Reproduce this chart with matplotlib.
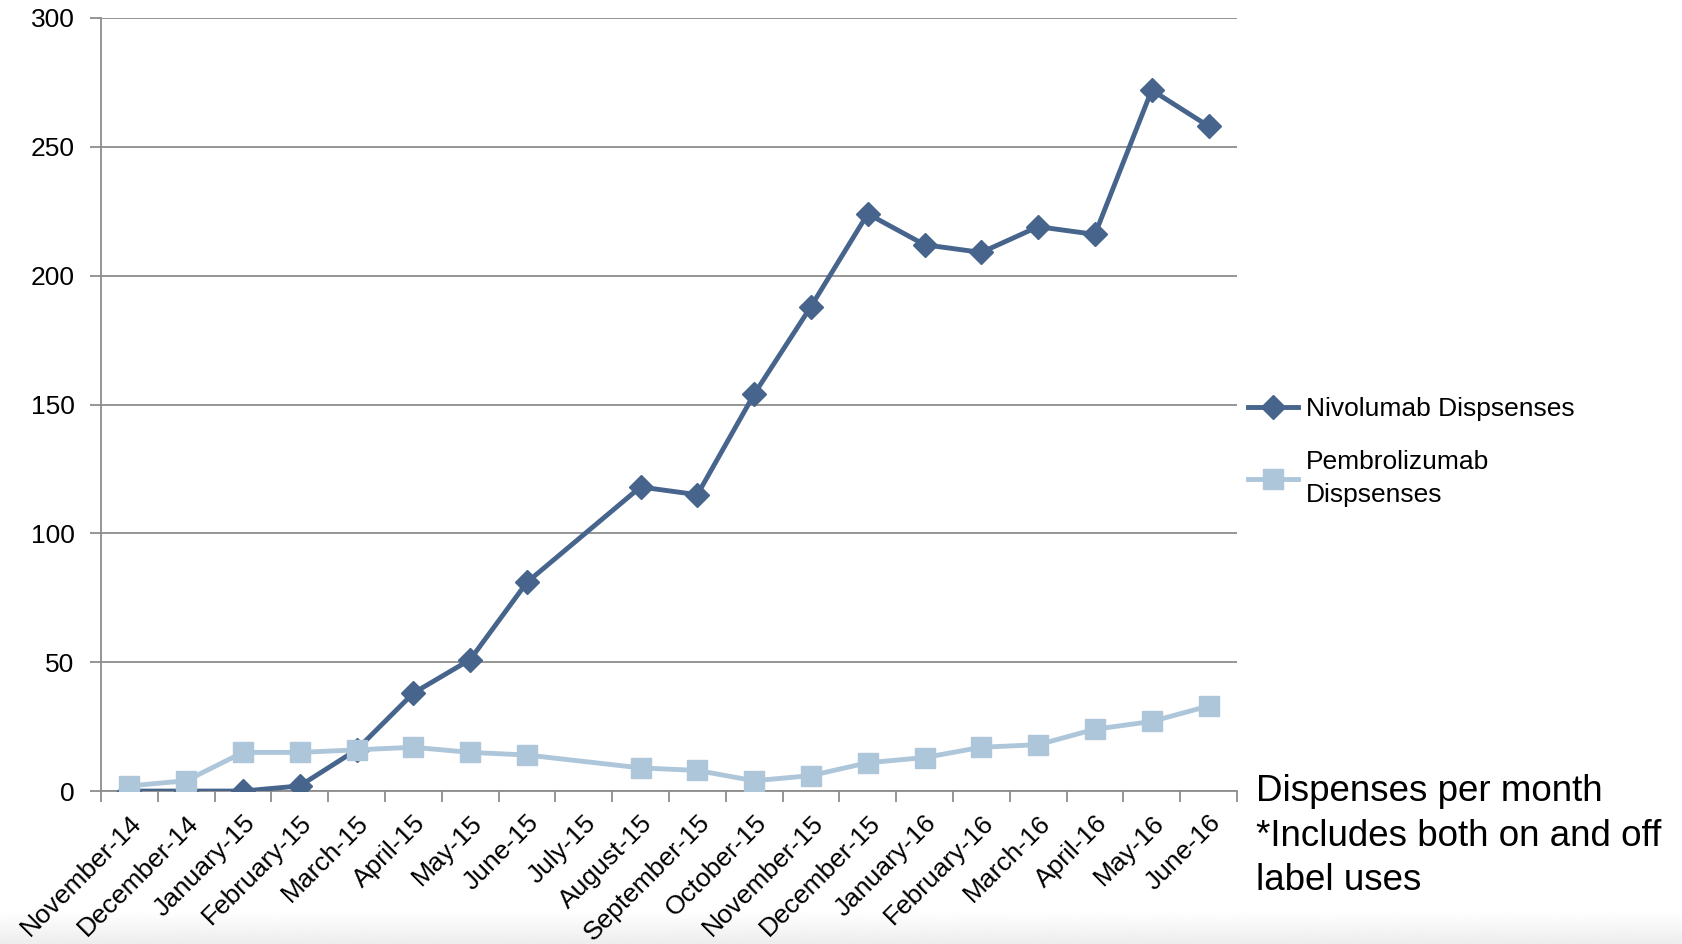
import numpy as np
import matplotlib
matplotlib.use("Agg")
from matplotlib import pyplot as plt

plt.rcParams['font.family'] = ['Liberation Sans', 'DejaVu Sans']

# monthly dispenses, July-15 has no data
months = ['November-14', 'December-14', 'January-15', 'February-15', 'March-15',
          'April-15', 'May-15', 'June-15', 'July-15', 'August-15', 'September-15',
          'October-15', 'November-15', 'December-15', 'January-16', 'February-16',
          'March-16', 'April-16', 'May-16', 'June-16']
nivolumab = [0, 0, 0, 2, 16, 38, 51, 81, None, 118, 115, 154, 188, 224,
             212, 209, 219, 216, 272, 258]
pembrolizumab = [2, 4, 15, 15, 16, 17, 15, 14, None, 9, 8, 4, 6, 11,
                 13, 17, 18, 24, 27, 33]
y_ticks = [0, 50, 100, 150, 200, 250, 300]

dark = '#46648c'
light = '#aec6da'
grid_c = '#8c8c8c'

def valid(vals):
    xs = [i for i, v in enumerate(vals) if v is not None]
    ys = [v for v in vals if v is not None]
    return xs, ys

fig = plt.figure(figsize=(16.82, 9.44), dpi=100)

# faint grey fade along the bottom edge
bg = fig.add_axes([0, 0, 1, 0.034], zorder=-5)
bg.imshow(np.linspace(1.0, 0.93, 50).reshape(-1, 1), cmap='gray', vmin=0, vmax=1,
          aspect='auto', extent=[0, 1, 0, 1])
bg.axis('off')

ax = fig.add_axes([0.060, 0.162, 0.6754, 0.819])

x1, y1 = valid(nivolumab)
x2, y2 = valid(pembrolizumab)
ax.plot(x1, y1, color=dark, lw=3.5, marker='D', markersize=12, zorder=3,
        label='Nivolumab Dispsenses')
ax.plot(x2, y2, color=light, lw=3.5, marker='s', markersize=14, zorder=4,
        label='Pembrolizumab\nDispsenses')

ax.set_xlim(-0.5, len(months) - 0.5)
ax.set_ylim(0, 300)
ax.set_yticks(y_ticks)
ax.yaxis.grid(True, color=grid_c, lw=1.3)
ax.set_axisbelow(True)

# category boundaries get tick marks, labels sit under each point
ax.set_xticks(np.arange(-0.5, len(months), 1.0))
ax.set_xticklabels([])
ax.tick_params(axis='x', which='major', direction='out', length=8,
               color=grid_c, width=1.3)
ax.set_xticks(np.arange(len(months)), minor=True)
ax.set_xticklabels(months, minor=True, rotation=45, ha='right',
                   rotation_mode='anchor', fontsize=19)
ax.tick_params(axis='x', which='minor', length=0, pad=14)
ax.tick_params(axis='y', direction='out', length=8, color=grid_c, width=1.3,
               labelsize=19, pad=11)

for s in ['top', 'right']:
    ax.spines[s].set_visible(False)
for s in ['left', 'bottom']:
    ax.spines[s].set_color(grid_c)
    ax.spines[s].set_linewidth(1.3)

leg = ax.legend(loc='upper left', bbox_to_anchor=(0.991, 0.537), frameon=False,
                fontsize=19, handlelength=1.9, handletextpad=0.3, labelspacing=1.1,
                borderaxespad=0.4)
for t in leg.get_texts():
    t.set_linespacing(1.45)

fig.text(0.747, 0.1144, 'Dispenses per month\n*Includes both on and off\nlabel uses',
         fontsize=26.5, va='center', ha='left', linespacing=1.35)

plt.savefig('out.png', dpi=100)
